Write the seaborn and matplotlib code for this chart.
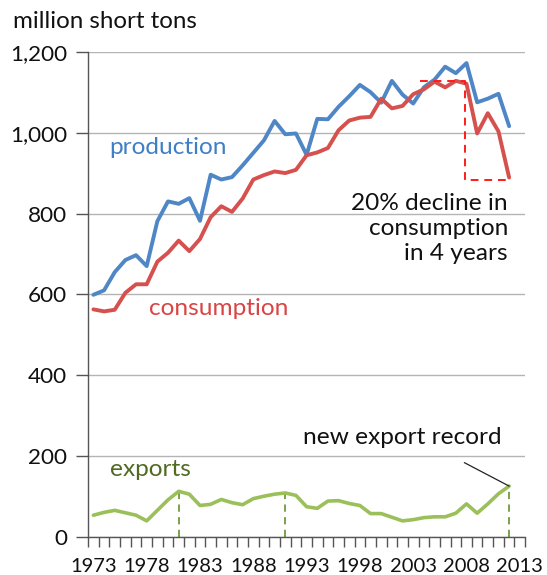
import numpy as np
import pandas as pd
import matplotlib
matplotlib.use("Agg")
import matplotlib.pyplot as plt
import seaborn as sns

# US coal, million short tons
years = list(range(1973, 2013))
production = [599, 610, 655, 685, 697, 670, 781, 830, 824, 838,
              782, 896, 884, 890, 919, 950, 981, 1029, 996, 998,
              945, 1034, 1033, 1064, 1090, 1118, 1100, 1074, 1128, 1094,
              1072, 1112, 1131, 1163, 1147, 1172, 1075, 1084, 1096, 1016]
consumption = [563, 558, 562, 604, 625, 625, 681, 703, 733, 707,
               737, 791, 818, 804, 837, 884, 895, 904, 900, 908,
               944, 951, 962, 1006, 1030, 1037, 1039, 1084, 1060, 1066,
               1095, 1107, 1126, 1112, 1128, 1121, 998, 1048, 1003, 889]
exports = [54, 61, 66, 60, 54, 40, 66, 92, 113, 106,
           78, 81, 93, 85, 80, 95, 101, 106, 109, 103,
           75, 71, 89, 90, 83, 78, 58, 58, 49, 40,
           43, 48, 50, 50, 59, 82, 59, 82, 107, 126]
export_peaks = [1981, 1991, 2012]
tick_years = [1973, 1978, 1983, 1988, 1993, 1998, 2003, 2008, 2013]
y_ticks = [0, 200, 400, 600, 800, 1000, 1200]

BLUE = "#4f86c6"
RED = "#d6504e"
GREEN = "#9bc05a"
LABEL_SIZE = 17.6

sns.set_theme(style="white")
plt.rcParams["font.family"] = ["Lato", "DejaVu Sans"]

df = pd.DataFrame({"year": years, "production": production,
                   "consumption": consumption, "exports": exports})

fig = plt.figure(figsize=(5.47, 5.75), dpi=100)
ax = fig.add_axes([0.161, 0.066, 0.799, 0.844])

for v in y_ticks:
    ax.axhline(v, color="#b4b4b4", lw=1.0, zorder=0)

sns.lineplot(data=df, x="year", y="exports", ax=ax, color=GREEN, lw=2.6, zorder=3)
sns.lineplot(data=df, x="year", y="consumption", ax=ax, color=RED, lw=2.8, zorder=4)
sns.lineplot(data=df, x="year", y="production", ax=ax, color=BLUE, lw=2.8, zorder=3)

# dashed drop lines at export peaks
for yr in export_peaks:
    val = exports[years.index(yr)]
    ax.plot([yr, yr], [0, val], color="#6f9a3a", lw=1.3, ls=(0, (4, 3)), zorder=2)

# dashed bracket showing the consumption decline
top = consumption[years.index(2007)]
bottom = consumption[years.index(2012)]
xv = 2007.85
ax.plot([2003.6, xv, xv, 2012], [top, top, bottom - 6, bottom - 6],
        color="#ff1a1a", lw=1.4, ls=(0, (4, 3)), zorder=5)

# series labels
ax.text(1974.5, 964, "production", color="#3f7fc6", fontsize=LABEL_SIZE, va="center", ha="left")
ax.text(1978.2, 564, "consumption", color="#d94444", fontsize=LABEL_SIZE, va="center", ha="left")
ax.text(1974.6, 166, "exports", color="#506a22", fontsize=LABEL_SIZE, va="center", ha="left")

ax.text(2011.9, 826, "20% decline in", color="#111111", fontsize=LABEL_SIZE, ha="right", va="center")
ax.text(2011.9, 762, "consumption", color="#111111", fontsize=LABEL_SIZE, ha="right", va="center")
ax.text(2011.9, 700, "in 4 years", color="#111111", fontsize=LABEL_SIZE, ha="right", va="center")

ax.text(2002.0, 245, "new export record", color="#111111", fontsize=LABEL_SIZE, ha="center", va="center")
ax.plot([2007.8, 2012], [184, exports[-1]], color="#222222", lw=0.9, zorder=5)

fig.text(0.024, 0.963, "million short tons", fontsize=17.4, color="#111111", va="center", ha="left")

ax.set_xlim(1972.5, 2013.5)
ax.set_ylim(0, 1200)
ax.set_xlabel("")
ax.set_ylabel("")
ax.set_yticks(y_ticks)
ax.set_yticklabels([f"{v:,}" for v in y_ticks])
ax.set_xticks(tick_years)
ax.set_xticklabels([str(y) for y in tick_years])
ax.set_xticks(np.arange(1972.5, 2014.0, 1.0), minor=True)
ax.tick_params(axis="x", which="major", length=0, pad=15, labelsize=14.5, colors="#111111")
ax.tick_params(axis="x", which="minor", length=7, width=1.0, color="#555555", direction="out", bottom=True)
ax.tick_params(axis="y", which="major", length=9, width=1.0, color="#555555", direction="out",
               left=True, labelsize=16.2, labelcolor="#111111", pad=6)

for side in ["top", "right"]:
    ax.spines[side].set_visible(False)
for side in ["left", "bottom"]:
    ax.spines[side].set_color("#555555")
    ax.spines[side].set_linewidth(1.0)

fig.savefig("out.png", dpi=100)
